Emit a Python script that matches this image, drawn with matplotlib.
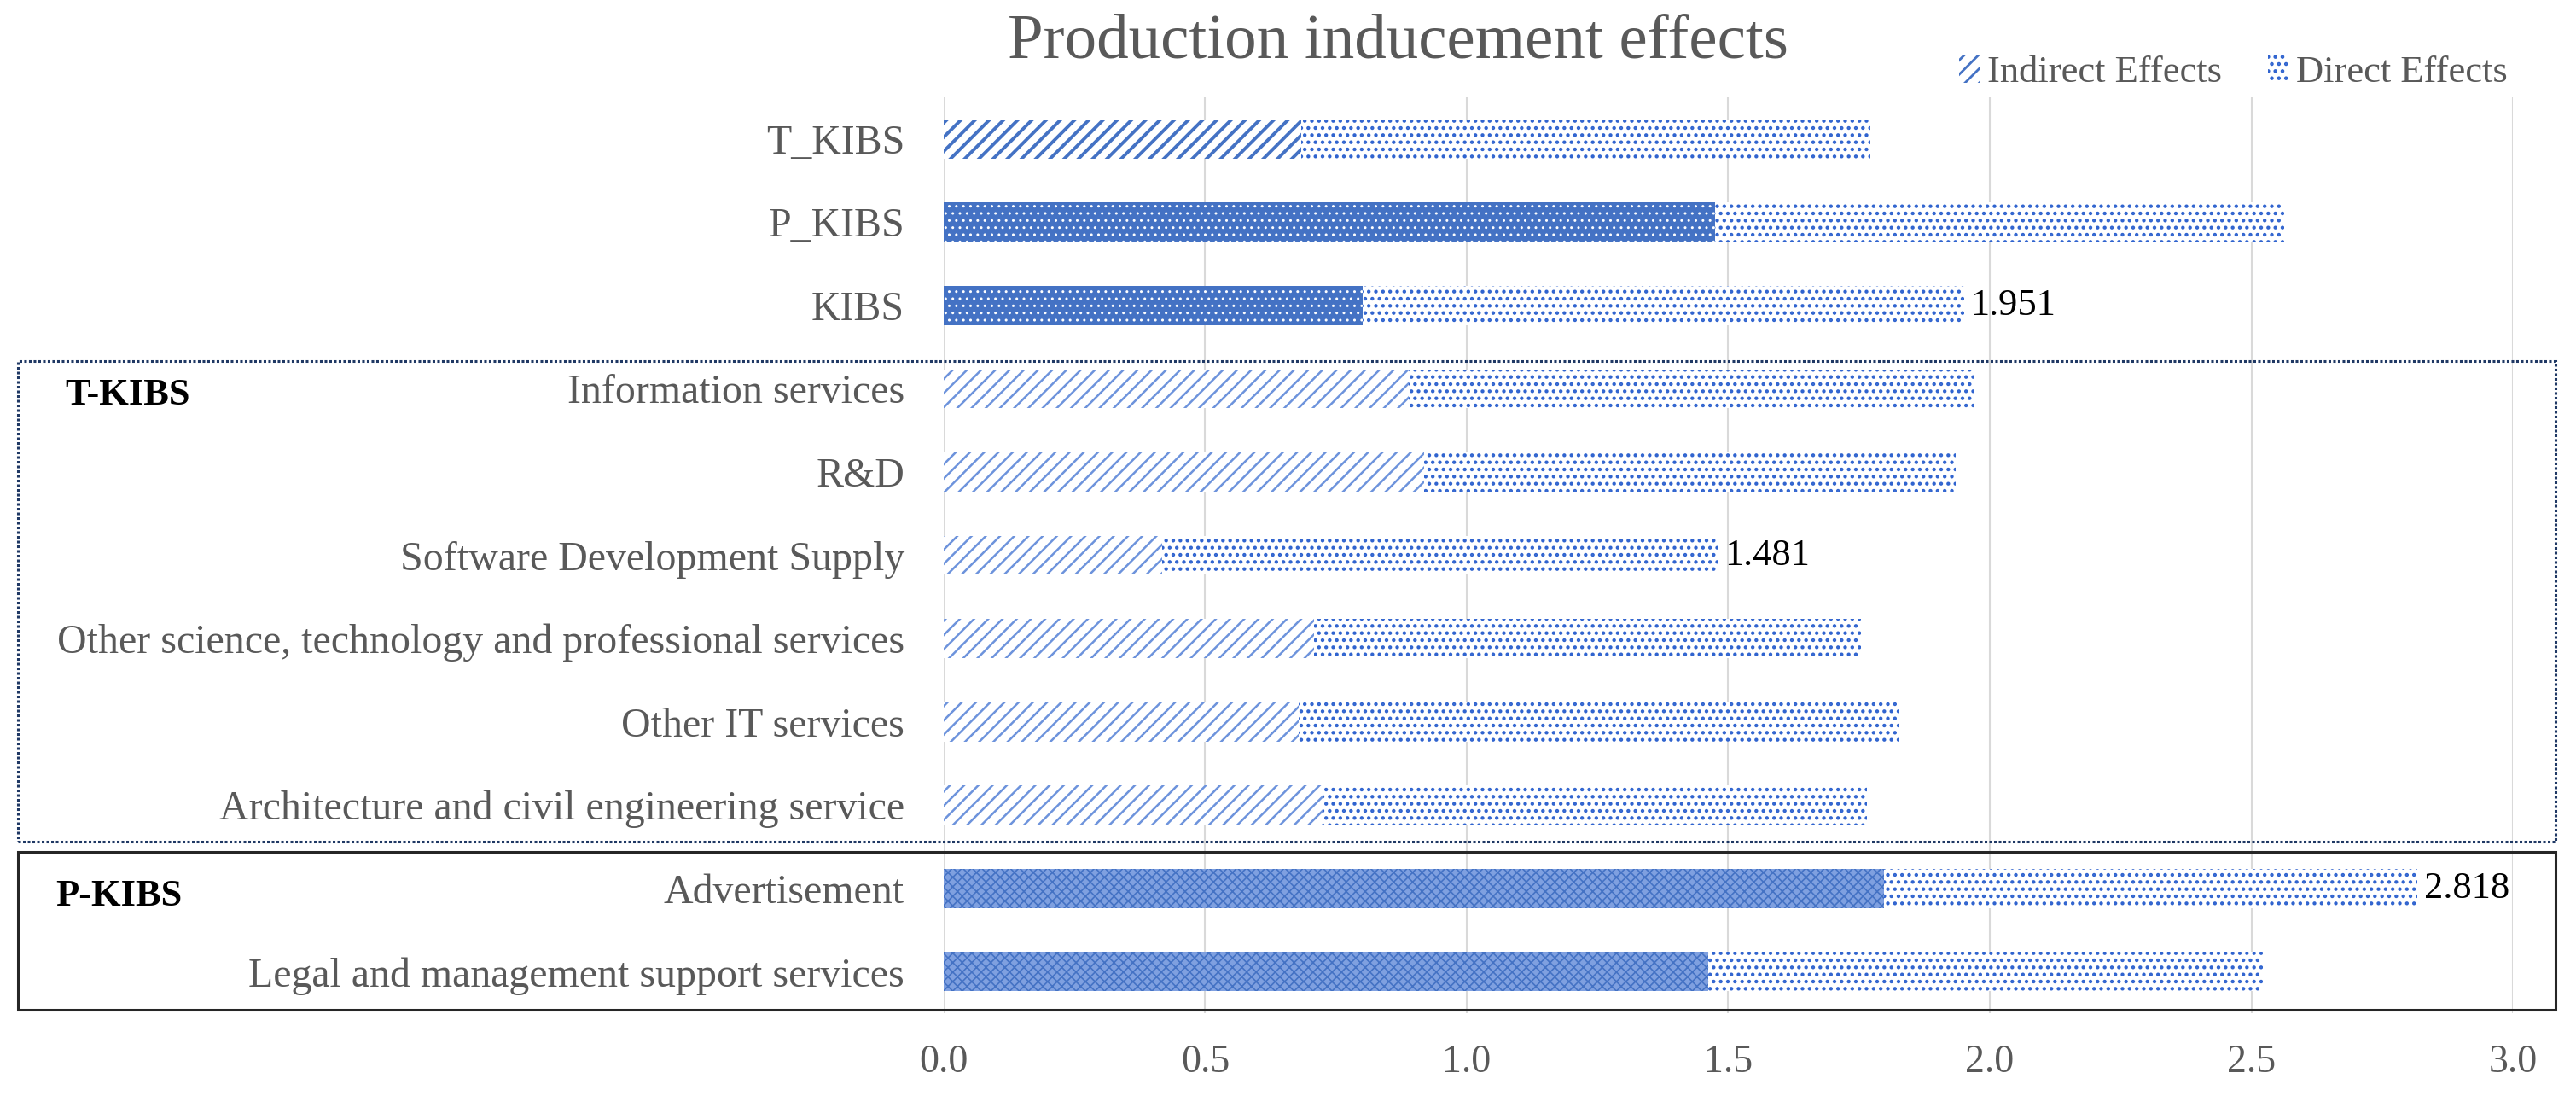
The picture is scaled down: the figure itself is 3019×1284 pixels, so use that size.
import matplotlib.pyplot as plt
import matplotlib as mpl
from matplotlib.patches import Patch, Rectangle

# Datos (de arriba hacia abajo)
categories = ['T_KIBS', 'P_KIBS', 'KIBS',
              'Information services', 'R&D', 'Software Development Supply',
              'Other science, technology and professional services',
              'Other IT services', 'Architecture and civil engineering service',
              'Advertisement', 'Legal and management support services']
indirect = [0.684, 1.475, 0.801, 0.890, 0.919, 0.418, 0.708, 0.679, 0.724, 1.797, 1.462]
direct = [1.088, 1.087, 1.150, 1.079, 1.015, 1.063, 1.046, 1.147, 1.041, 1.021, 1.060]
groups = ['total', 'total', 'total', 'T', 'T', 'T', 'T', 'T', 'T', 'P', 'P']
value_labels = {'KIBS': '1.951', 'Software Development Supply': '1.481', 'Advertisement': '2.818'}
xticks = [0.0, 0.5, 1.0, 1.5, 2.0, 2.5, 3.0]

blue = '#4472C4'
dot_blue = '#2F63CF'
gray = '#595959'
plt.rcParams['font.family'] = ['Liberation Serif', 'DejaVu Serif']
plt.rcParams['hatch.linewidth'] = 2.0

# estilo de la parte indirecta segun la fila
indirect_style = {
    'T_KIBS': dict(facecolor='white', edgecolor=blue, hatch='//', hlw=2.8),
    'P_KIBS': dict(facecolor=blue, edgecolor='white', hatch='..', hlw=1.0),
    'KIBS': dict(facecolor=blue, edgecolor='white', hatch='..', hlw=1.0),
    'T': dict(facecolor='white', edgecolor='#6D93DC', hatch='//', hlw=1.8),
    'P': dict(facecolor='#7FA0E0', edgecolor=blue, hatch='xxx', hlw=1.2),
}

fig = plt.figure(figsize=(30.19, 12.84), dpi=100)
ax = fig.add_axes([0.3663, 0.0755, 0.6092, 0.8357])

ypos = list(range(len(categories)))
h = 0.47
for i, cat in enumerate(categories):
    key = cat if groups[i] == 'total' else groups[i]
    st = indirect_style[key]
    with mpl.rc_context({'hatch.linewidth': st['hlw']}):
        ax.barh(ypos[i], indirect[i], height=h, color=st['facecolor'],
                edgecolor=st['edgecolor'], hatch=st['hatch'], linewidth=0, zorder=2)
    with mpl.rc_context({'hatch.linewidth': 1.9}):
        ax.barh(ypos[i], direct[i], left=indirect[i], height=h, color='white',
                edgecolor=dot_blue, hatch='..', linewidth=0, zorder=2)
    if cat in value_labels:
        ax.text(indirect[i] + direct[i] + 0.012, ypos[i], value_labels[cat],
                va='center', ha='left', fontsize=32, color='black', zorder=3)

ax.set_ylim(len(categories) - 0.5, -0.5)
ax.set_xlim(0, 3.0)
ax.set_xticks(xticks)
ax.set_xticklabels([f'{t:.1f}' for t in xticks])
ax.set_yticks(ypos)
ax.set_yticklabels(categories)
ax.tick_params(axis='both', length=0, labelsize=33, colors=gray)
ax.tick_params(axis='y', labelsize=34.5, pad=33)
ax.tick_params(axis='x', pad=26)
ax.grid(axis='x', color='#D9D9D9', linewidth=1.5, zorder=0)
ax.set_axisbelow(True)
for s in ax.spines.values():
    s.set_visible(False)

# recuadros de grupos
fig.add_artist(Rectangle((0.007, 1 - 986 / 1284), 0.985, (986 - 423) / 1284,
                         transform=fig.transFigure, fill=False, edgecolor='#1F3864',
                         linewidth=2.2, linestyle=(0, (1, 0.8))))
fig.add_artist(Rectangle((0.007, 1 - 1183 / 1284), 0.985, (1183 - 998) / 1284,
                         transform=fig.transFigure, fill=False, edgecolor='#262626',
                         linewidth=2.2))
fig.text(0.0252, 1 - 463 / 1284, 'T-KIBS', fontsize=32, fontweight='bold', va='center')
fig.text(0.0215, 1 - 1050 / 1284, 'P-KIBS', fontsize=32, fontweight='bold', va='center')

fig.text(0.5426, 1 - 50 / 1284, 'Production inducement effects', fontsize=54,
         color=gray, ha='center', va='center')

handles = [Patch(facecolor='white', edgecolor=blue, hatch='//', linewidth=0, label='Indirect Effects'),
           Patch(facecolor='white', edgecolor=dot_blue, hatch='..', linewidth=0, label='Direct Effects')]
fig.legend(handles=handles, loc='center', bbox_to_anchor=(0.867, 1 - 85 / 1284), ncol=2,
           frameon=False, fontsize=32, labelcolor=gray, handlelength=0.55, handleheight=0.75,
           handletextpad=0.2, columnspacing=1.2)

plt.savefig('out.png', dpi=100)
